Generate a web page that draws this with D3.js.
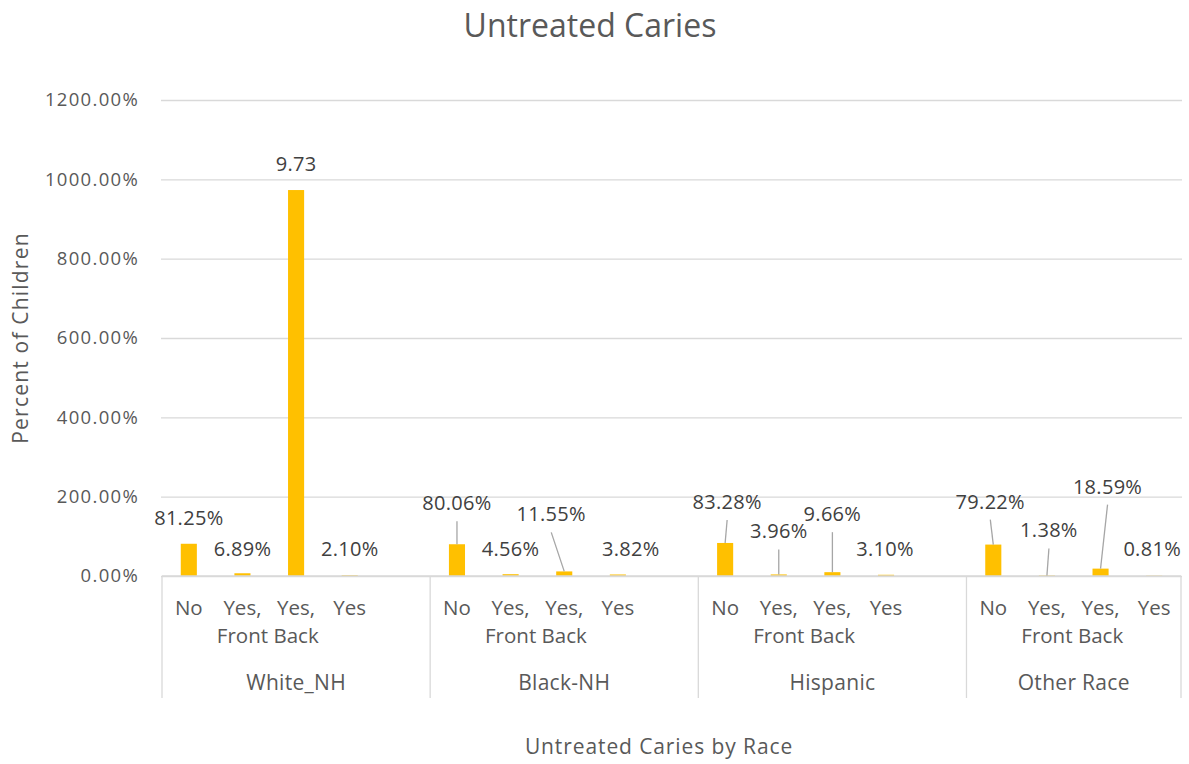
<!DOCTYPE html>
<html><head><meta charset="utf-8">
<script src="https://cdn.jsdelivr.net/npm/d3@7"></script>
<style>
body{margin:0;background:#fff}
text{font-family:"Open Sans",sans-serif}
</style>
</head><body>
<svg id="chart" width="1189" height="764"></svg>
<script>
// ---------- data ----------
const races = ["White_NH", "Black-NH", "Hispanic", "Other Race"];
const categories = ["No", "Yes, Front", "Yes, Back", "Yes"];
const whiteNH   = [81.25, 6.89, 973.0, 2.10];
const blackNH   = [80.06, 4.56, 11.55, 3.82];
const hispanic  = [83.28, 3.96, 9.66, 3.10];
const otherRace = [79.22, 1.38, 18.59, 0.81];
const whiteNHLabels   = ["81.25%", "6.89%", "9.73", "2.10%"];
const blackNHLabels   = ["80.06%", "4.56%", "11.55%", "3.82%"];
const hispanicLabels  = ["83.28%", "3.96%", "9.66%", "3.10%"];
const otherRaceLabels = ["79.22%", "1.38%", "18.59%", "0.81%"];
const yTicks = [0, 200, 400, 600, 800, 1000, 1200];

// ---------- layout (label placement, like Excel's manual label positions) ----------
// [dx from bar centre, baseline offset from bar top, leader line?]
const labelLayout = [
  [[0,-19,false],[0,-17,false],[0,-19,false],[0,-19,false]],
  [[0,-34,true],[0,-18,false],[-13,-50,true],[13,-18,false]],
  [[2,-34,true],[0,-36,true],[0,-51,true],[-1,-19,false]],
  [[-3,-36,true],[2,-38,true],[7,-75,true],[-2,-20,false]]
];

const seriesValues = [whiteNH, blackNH, hispanic, otherRace];
const seriesLabels = [whiteNHLabels, blackNHLabels, hispanicLabels, otherRaceLabels];

const svg = d3.select("#chart");
const mLeft = 162, mRight = 1181, mTop = 100, mBottom = 576;

// slots: 4 categories + a blank spacer after each race (except last)
const slots = [];
races.forEach((r, gi) => {
  categories.forEach(c => slots.push(r + "|" + c));
  if (gi < races.length - 1) slots.push(r + "|gap");
});

const x = d3.scaleBand().domain(slots).range([mLeft, mRight]).padding(0);
const y = d3.scaleLinear().domain([0, 1200]).range([mBottom, mTop]);

const data = [];
races.forEach((r, gi) => categories.forEach((c, ci) => data.push({
  race: r, cat: c, gi, ci,
  value: seriesValues[gi][ci],
  label: seriesLabels[gi][ci],
  layout: labelLayout[gi][ci]
})));

// title
svg.append("text").attr("x", 590).attr("y", 37).attr("text-anchor", "middle")
  .attr("font-size", 32).attr("fill", "#595959").text("Untreated Caries");

// gridlines + y axis
const yAxis = d3.axisLeft(y).tickValues(yTicks)
  .tickFormat(d => d3.format(".2f")(d) + "%")
  .tickSize(-(mRight - mLeft + 2)).tickPadding(22);
const gy = svg.append("g").attr("transform", `translate(${mLeft - 1},0)`).call(yAxis);
gy.select(".domain").remove();
gy.selectAll(".tick line").attr("stroke", "#d9d9d9").attr("stroke-width", 1.3);
gy.selectAll(".tick text").attr("font-size", 18.5).attr("fill", "#595959")
  .attr("font-family", "Open Sans").attr("letter-spacing", 1.3);

// bars
const barW = x.bandwidth() * 0.3;
svg.append("g").selectAll("rect").data(data).join("rect")
  .attr("x", d => x(d.race + "|" + d.cat) + (x.bandwidth() - barW) / 2)
  .attr("y", d => y(d.value))
  .attr("width", barW)
  .attr("height", d => y(0) - y(d.value))
  .attr("fill", "#FFC000");

// x axis baseline
svg.append("line").attr("x1", mLeft).attr("x2", mRight).attr("y1", mBottom).attr("y2", mBottom)
  .attr("stroke", "#d9d9d9").attr("stroke-width", 1.3);

// group separators
const bounds = races.map(r => x(r + "|" + categories[0])).concat([mRight]);
svg.append("g").selectAll("line").data(bounds).join("line")
  .attr("x1", d => d).attr("x2", d => d).attr("y1", mBottom).attr("y2", 698)
  .attr("stroke", "#d9d9d9").attr("stroke-width", 1.3);

// category labels
const catG = svg.append("g");
data.forEach(d => {
  const cx = x(d.race + "|" + d.cat) + x.bandwidth() / 2;
  const parts = d.cat.split(" ");
  const lines = parts.length > 1 ? [parts[0], parts.slice(1).join(" ")] : parts;
  lines.forEach((ln, li) => {
    catG.append("text").attr("x", cx).attr("y", 615 + li * 28)
      .attr("text-anchor", "middle").attr("font-size", 20.5).attr("fill", "#595959").text(ln);
  });
});

// group labels
svg.append("g").selectAll("text").data(races).join("text")
  .attr("x", (r, i) => (bounds[i] + bounds[i + 1]) / 2)
  .attr("y", 690).attr("text-anchor", "middle").attr("font-size", 21)
  .attr("letter-spacing", 0.3)
  .attr("fill", "#595959").text(r => r);

// data labels + leader lines
const lg = svg.append("g");
data.forEach(d => {
  const bx = x(d.race + "|" + d.cat) + x.bandwidth() / 2;
  const by = y(d.value);
  const [dx, dy, leader] = d.layout;
  const lx = bx + dx, ly = by + dy;
  if (leader) {
    lg.append("line").attr("x1", lx).attr("y1", ly + 11).attr("x2", bx).attr("y2", by)
      .attr("stroke", "#a6a6a6").attr("stroke-width", 1.3);
  }
  lg.append("text").attr("x", lx).attr("y", ly).attr("text-anchor", "middle")
    .attr("font-size", 20).attr("letter-spacing", 0.3).attr("fill", "#404040").text(d.label);
});

// axis titles
svg.append("text").attr("x", 659).attr("y", 754).attr("text-anchor", "middle")
  .attr("font-size", 21).attr("letter-spacing", 0.9).attr("fill", "#595959")
  .text("Untreated Caries by Race");
svg.append("text").attr("transform", "translate(27.5,338) rotate(-90)")
  .attr("text-anchor", "middle").attr("font-size", 21).attr("letter-spacing", 1.2)
  .attr("fill", "#595959").text("Percent of Children");
</script>
</body></html>
